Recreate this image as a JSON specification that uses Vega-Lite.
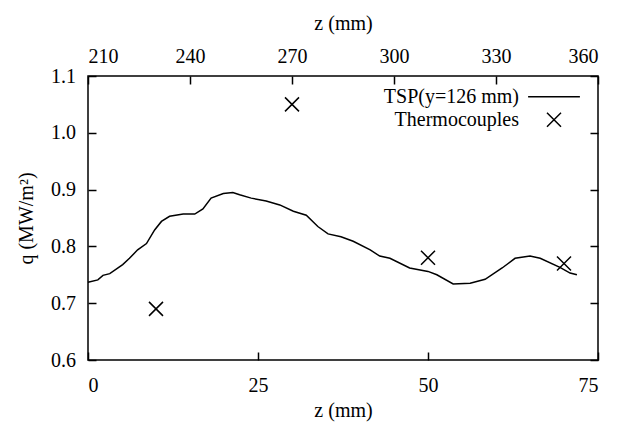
{
  "$schema": "https://vega.github.io/schema/vega-lite/v6.json",
  "width": 510,
  "height": 284,
  "autosize": {"type": "none"},
  "padding": {"left": 88, "top": 76, "right": 30, "bottom": 67},
  "background": "white",
  "config": {
    "view": {"stroke": "black", "strokeWidth": 1.5}
  },
  "datasets": {
    "tsp": [
      {"z": 0, "q": 0.737},
      {"z": 1.45, "q": 0.741},
      {"z": 2.2, "q": 0.749},
      {"z": 3.2, "q": 0.752},
      {"z": 5.1, "q": 0.768},
      {"z": 6.1, "q": 0.779},
      {"z": 7.3, "q": 0.794},
      {"z": 8.6, "q": 0.805},
      {"z": 9.8, "q": 0.829},
      {"z": 10.8, "q": 0.844},
      {"z": 12.0, "q": 0.853},
      {"z": 14.0, "q": 0.857},
      {"z": 15.7, "q": 0.857},
      {"z": 16.9, "q": 0.866},
      {"z": 18.1, "q": 0.885},
      {"z": 19.9, "q": 0.893},
      {"z": 21.3, "q": 0.895},
      {"z": 22.3, "q": 0.891},
      {"z": 24.0, "q": 0.885},
      {"z": 26.2, "q": 0.880},
      {"z": 28.2, "q": 0.873},
      {"z": 30.2, "q": 0.862},
      {"z": 32.1, "q": 0.855},
      {"z": 33.8, "q": 0.835},
      {"z": 35.3, "q": 0.822},
      {"z": 37.2, "q": 0.817},
      {"z": 39.0, "q": 0.809},
      {"z": 41.5, "q": 0.794},
      {"z": 42.9, "q": 0.783},
      {"z": 44.4, "q": 0.779},
      {"z": 47.3, "q": 0.762},
      {"z": 50.0, "q": 0.756},
      {"z": 51.3, "q": 0.750},
      {"z": 53.7, "q": 0.734},
      {"z": 56.2, "q": 0.735},
      {"z": 58.4, "q": 0.742},
      {"z": 60.9, "q": 0.762},
      {"z": 62.8, "q": 0.779},
      {"z": 65.0, "q": 0.783},
      {"z": 66.5, "q": 0.779},
      {"z": 69.4, "q": 0.763},
      {"z": 70.9, "q": 0.753},
      {"z": 71.9, "q": 0.750}
    ],
    "tc": [
      {"z": 10, "q": 0.69, "series": "Thermocouples"},
      {"z": 30, "q": 1.05, "series": "Thermocouples"},
      {"z": 50, "q": 0.78, "series": "Thermocouples"},
      {"z": 70, "q": 0.77, "series": "Thermocouples"}
    ]
  },
  "layer": [
    {
      "data": {"name": "tsp"},
      "mark": {"type": "line", "color": "black", "strokeWidth": 1.5},
      "encoding": {
        "x": {
          "field": "z", "type": "quantitative",
          "scale": {"domain": [0, 75], "nice": false, "zero": false},
          "axis": {
            "orient": "bottom", "values": [0, 25, 50, 75], "title": "z (mm)",
            "labelFont": "serif", "labelFontSize": 20, "labelColor": "black",
            "titleFont": "serif", "titleFontSize": 20, "titleFontWeight": "normal", "titleColor": "black",
            "domain": false, "grid": false, "tickColor": "black", "tickWidth": 1.5, "tickSize": -8,
            "labelPadding": 23, "titlePadding": 5
          }
        },
        "y": {
          "field": "q", "type": "quantitative",
          "scale": {"domain": [0.6, 1.1], "nice": false, "zero": false},
          "axis": {
            "orient": "left", "values": [0.6, 0.7, 0.8, 0.9, 1.0, 1.1], "format": ".1f", "title": "q (MW/m²)",
            "labelFont": "serif", "labelFontSize": 20, "labelColor": "black",
            "titleFont": "serif", "titleFontSize": 20, "titleFontWeight": "normal", "titleColor": "black",
            "domain": false, "grid": false, "tickColor": "black", "tickWidth": 1.5, "tickSize": -8,
            "labelPadding": 20.5, "titlePadding": 14
          }
        }
      }
    },
    {
      "data": {"name": "tc"},
      "mark": {"type": "point", "filled": false, "color": "black", "strokeWidth": 1.5, "size": 196, "opacity": 1},
      "encoding": {
        "x": {
          "field": "z", "type": "quantitative",
          "scale": {"domain": [0, 75], "nice": false, "zero": false},
          "axis": {
            "orient": "top", "values": [0, 15, 30, 45, 60, 75], "title": "z (mm)",
            "labelExpr": "format(210 + 2 * datum.value, 'd')",
            "labelFont": "serif", "labelFontSize": 20, "labelColor": "black",
            "titleFont": "serif", "titleFontSize": 20, "titleFontWeight": "normal", "titleColor": "black",
            "domain": false, "grid": false, "tickColor": "black", "tickWidth": 1.5, "tickSize": -8,
            "labelPadding": 18, "titlePadding": 13
          }
        },
        "y": {
          "field": "q", "type": "quantitative",
          "scale": {"domain": [0.6, 1.1], "nice": false, "zero": false},
          "axis": {
            "orient": "right", "values": [0.6, 0.7, 0.8, 0.9, 1.0, 1.1], "labels": false, "title": null,
            "domain": false, "grid": false, "tickColor": "black", "tickWidth": 1.5, "tickSize": -8
          }
        },
        "shape": {
          "field": "series", "type": "nominal",
          "scale": {
            "domain": ["TSP(y=126 mm)", "Thermocouples"],
            "range": ["M-3.7,0L3.7,0", "M-1,-1L1,1M-1,1L1,-1"]
          },
          "legend": {
            "title": null,
            "orient": "none",
            "legendX": 456,
            "legendY": 10.7,
            "padding": 0,
            "rowPadding": 3,
            "symbolSize": 196,
            "symbolStrokeWidth": 1.5,
            "symbolStrokeColor": "black",
            "symbolFillColor": "transparent",
            "symbolOpacity": 1,
            "labelFont": "serif",
            "labelFontSize": 20,
            "labelColor": "black",
            "labelAlign": "right",
            "labelOffset": -45
          }
        }
      }
    }
  ],
  "resolve": {"axis": {"x": "independent", "y": "independent"}}
}
